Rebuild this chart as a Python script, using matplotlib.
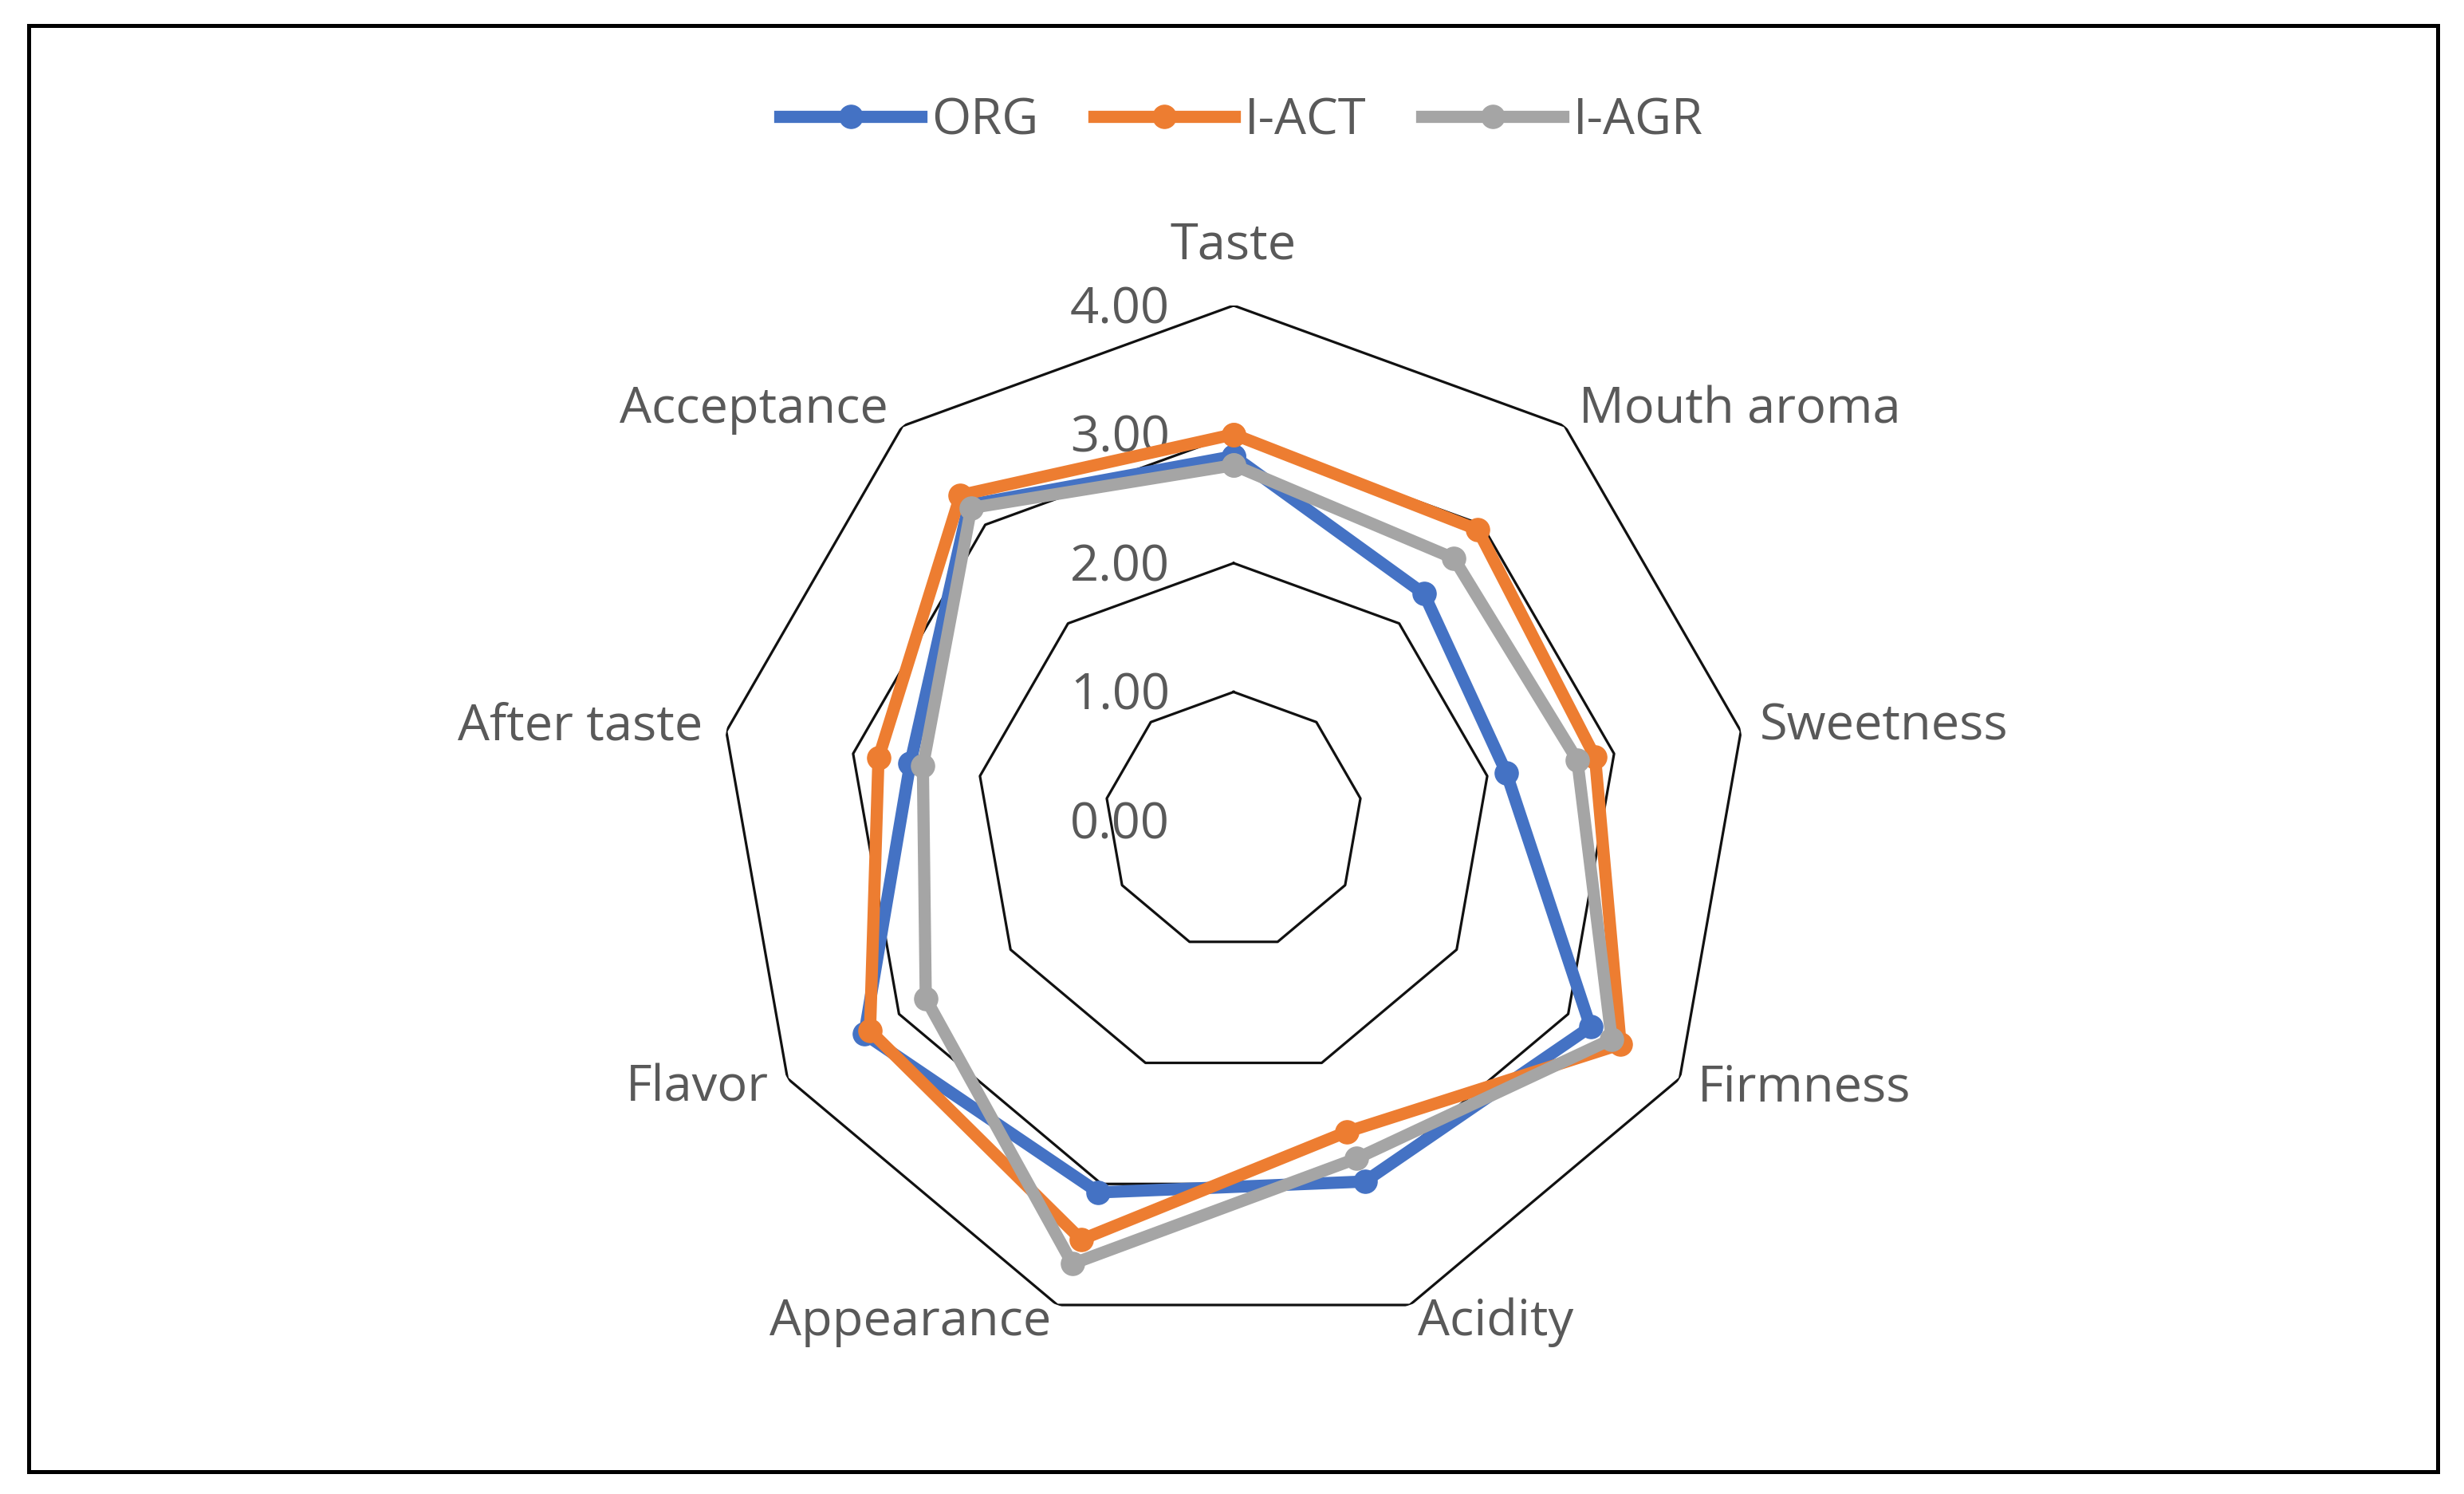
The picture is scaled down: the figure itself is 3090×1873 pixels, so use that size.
import numpy as np
import matplotlib
matplotlib.use("Agg")
import matplotlib.pyplot as plt
from matplotlib.patches import Rectangle

categories = ["Taste", "Mouth aroma", "Sweetness", "Firmness", "Acidity",
              "Appearance", "Flavor", "After taste", "Acceptance"]
org = [2.83, 2.30, 2.15, 3.20, 2.98, 3.07, 3.31, 2.55, 3.20]
i_act = [3.00, 2.95, 2.85, 3.47, 2.57, 3.46, 3.26, 2.80, 3.30]
i_agr = [2.76, 2.66, 2.71, 3.39, 2.79, 3.66, 2.76, 2.45, 3.17]
series_names = ["ORG", "I-ACT", "I-AGR"]
ring_levels = [1.0, 2.0, 3.0, 4.0]
tick_values = [0.0, 1.0, 2.0, 3.0, 4.0]
tick_labels = ["0.00", "1.00", "2.00", "3.00", "4.00"]

colors = ["#4472C4", "#ED7D31", "#A5A5A5"]
text_color = "#595959"
FONT = "Open Sans"
FS = 45.5

W, H = 3090, 1873
DPI = 100
fig = plt.figure(figsize=(W / DPI, H / DPI), dpi=DPI)

cx, cy, R = 1547, 1029, 646
ax = fig.add_axes([(cx - R) / W, (H - cy - R) / H, 2 * R / W, 2 * R / H],
                  projection="polar")
ax.set_theta_zero_location("N")
ax.set_theta_direction(-1)
ax.set_ylim(0, 4)
ax.grid(False)
ax.set_xticks([])
ax.set_yticks([])
ax.spines["polar"].set_visible(False)
ax.patch.set_visible(False)

n = len(categories)
angles = np.arange(n) * 2 * np.pi / n
ang_closed = np.concatenate([angles, angles[:1]])

for r in ring_levels:
    ax.plot(ang_closed, [r] * (n + 1), color="#111111", lw=2.3, zorder=1)

handles = []
for name, vals, c in zip(series_names, [org, i_act, i_agr], colors):
    v = list(vals) + [vals[0]]
    h, = ax.plot(ang_closed, v, color=c, lw=11, marker="o", markersize=21,
                 markerfacecolor=c, markeredgecolor=c, label=name, zorder=3,
                 solid_joinstyle="miter")
    handles.append(h)

# radial tick labels along the Taste axis
px2pt = 72 / DPI
for tv, tl in zip(tick_values, tick_labels):
    ax.annotate(tl, xy=(0, tv), xytext=(-80 * px2pt, -6 * px2pt),
                textcoords="offset points", ha="right", va="center",
                fontsize=FS, color=text_color, family=FONT, zorder=2)

# category labels
offsets = [(0, 75, "center"), (18, 20, "left"), (24, 6, "left"),
           (22, -12, "left"), (10, -22, "left"), (-8, -22, "right"),
           (-24, -12, "right"), (-30, 6, "right"), (-18, 20, "right")]
for ang, cat, (dx, dy, ha) in zip(angles, categories, offsets):
    ax.annotate(cat, xy=(ang, 4), xytext=(dx * px2pt, dy * px2pt),
                textcoords="offset points", ha=ha, va="center",
                fontsize=FS, color=text_color, family=FONT)

leg = fig.legend(handles=handles, loc="center", ncol=3,
                 bbox_to_anchor=(1557 / W, 1 - 152 / H), frameon=False,
                 prop={"family": FONT, "size": FS}, handlelength=2.8,
                 handletextpad=0.2, columnspacing=1.1, numpoints=1)
for t in leg.get_texts():
    t.set_color(text_color)

fig.add_artist(Rectangle((35.5 / W, 1 - 1845 / H), (3057 - 35.5) / W,
                         (1845 - 31.5) / H, transform=fig.transFigure,
                         fill=False, edgecolor="black", lw=3.6))

fig.savefig("out.png", dpi=DPI, facecolor="white")
